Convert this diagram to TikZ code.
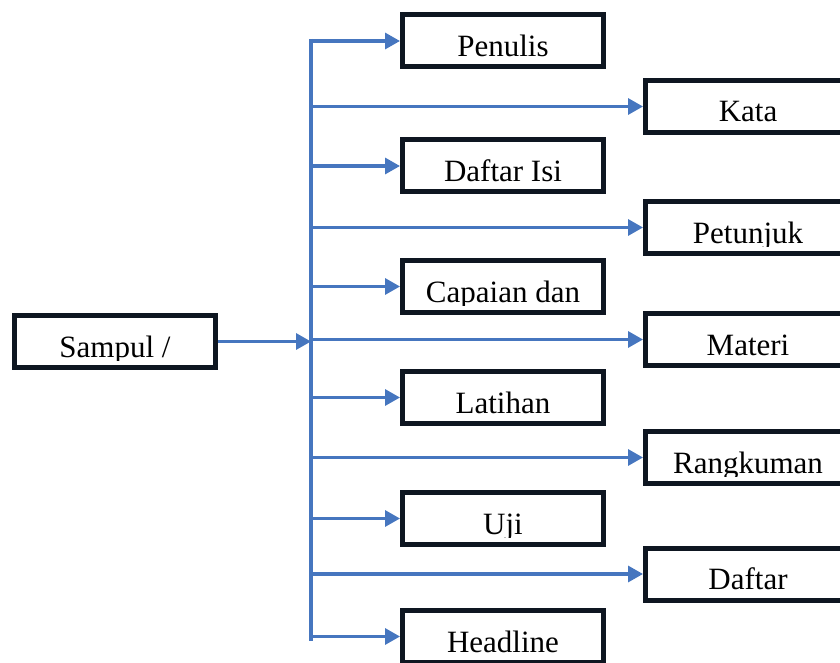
\documentclass[tikz,border=0pt]{standalone}
\usepackage{fontspec}
\setmainfont{Liberation Serif}
\usetikzlibrary{arrows.meta}

\definecolor{linkcolor}{HTML}{4676BF}
\definecolor{framecolor}{HTML}{0E1621}

\begin{document}
\begin{tikzpicture}
  [x=1pt,y=-1pt,
   % Styles
   item box/.style={draw=framecolor,line width=5pt,minimum width=201pt,minimum height=52pt,inner sep=0pt},
   wide box/.style={item box,minimum width=205pt},
   trunk line/.style={draw=linkcolor,line width=3.2pt},
   link line/.style={trunk line,-{Triangle[length=15pt,width=16pt]}},
   label text/.style={anchor=base,inner sep=0pt,font=\fontsize{31}{31}\selectfont}]

  \useasboundingbox (0,0) rectangle (840,663);
  \clip (0,0) rectangle (840,663);

  % Boxes
  \node[item box] (sampul) at (115,341.5) {};
  \foreach \name/\y in {pen/41, dft/166, cap/286.5, lat/397.5, uji/518.5, head/636.5}
    \node[item box] (\name) at (503,\y) {};
  \foreach \name/\y in {kata/106.5, pet/227.5, mat/339.5, rang/457.5, daf/574}
    \node[wide box] (\name) at (748,\y) {};

  % Texts, cut just below the baseline
  \foreach \name/\lbl in {sampul/{Sampul /}, pen/Penulis, dft/{Daftar Isi}, cap/{Capaian dan},
                          lat/Latihan, uji/Uji, head/Headline, kata/Kata, pet/Petunjuk,
                          mat/Materi, rang/Rangkuman, daf/Daftar}
  {
    \begin{scope}
      \clip (\name.north west) rectangle ([yshift=10pt]\name.south east);
      \node[label text] (\name text) at ([yshift=13pt]\name.south) {\lbl};
    \end{scope}
  }

  % Trunk and arrows
  \coordinate (top) at (311,39);
  \coordinate (bottom) at (311,641);
  \draw[trunk line] (top) -- (bottom);

  \coordinate (join) at (sampul.east -| top);
  \draw[link line] (sampul.east) -- (join);

  \foreach \name in {pen,dft,cap,lat,uji,head,kata,pet,mat,rang,daf}
    \draw[link line] (\name.west -| top) -- (\name.west);
\end{tikzpicture}
\end{document}
